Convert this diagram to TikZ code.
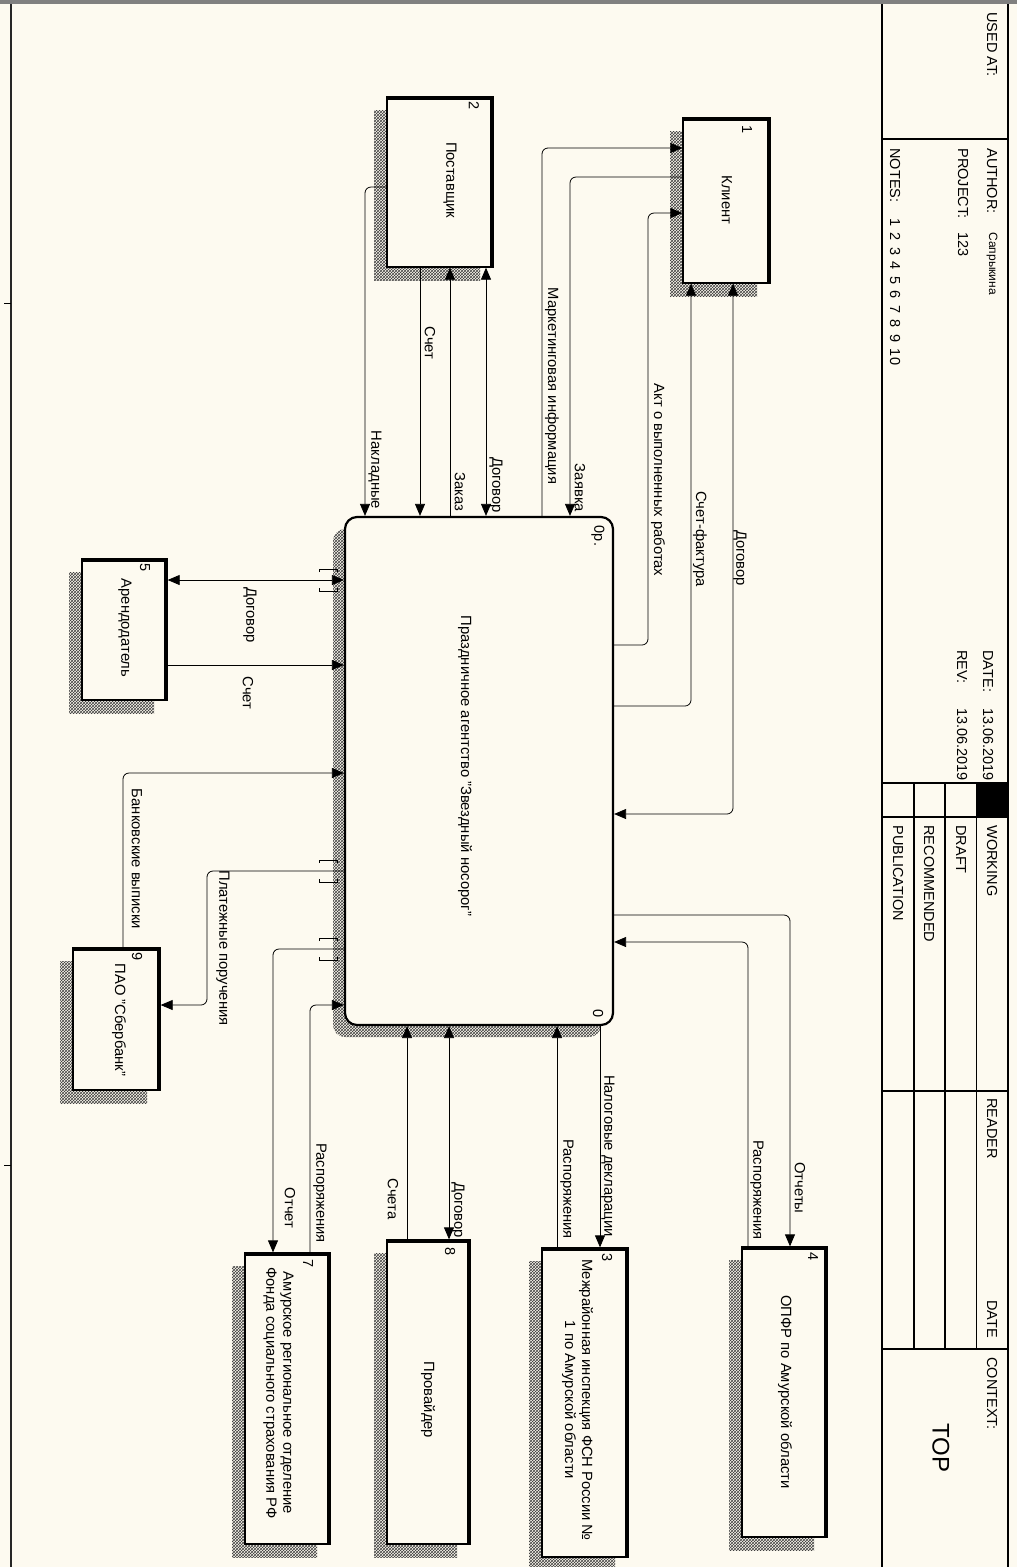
\documentclass[tikz,border=0pt]{standalone}
\usepackage{fontspec}
\setmainfont{Liberation Sans}
\usetikzlibrary{arrows.meta,shadows,patterns}
\definecolor{paper}{RGB}{253,250,240}
\tikzset{every path/.style={line width=0.8pt},
  vtxt/.style={rotate=-90,inner sep=1pt,align=center,font=\fontsize{14.8}{17}\selectfont},
  ttl/.style={rotate=-90,anchor=west,inner sep=0pt,font=\fontsize{14.5}{17}\selectfont},
  num/.style={rotate=-90,inner sep=0pt,font=\fontsize{14.5}{17}\selectfont},
  ext/.style={draw,line width=1.3pt,fill=paper,inner sep=0pt,
    general shadow={shadow xshift=-13pt,shadow yshift=-13pt,pattern=crosshatch,pattern color=black!75}},
  proc/.style={draw,line width=2.2pt,fill=paper,inner sep=0pt,rounded corners=12pt,
    general shadow={shadow xshift=-12pt,shadow yshift=-12pt,pattern=crosshatch,pattern color=black!75}},
  flow/.style={-{Triangle[length=12pt,width=10pt]},rounded corners=6pt},
  both/.style={{Triangle[length=12pt,width=10pt]}-{Triangle[length=12pt,width=10pt]},rounded corners=6pt}}

\begin{document}
\begin{tikzpicture}[x=1pt,y=-1pt]
  \useasboundingbox (0,0) rectangle (1017,1567);
  \fill[paper] (0,0) rectangle (1017,1567);

  \draw[black!50,line width=4pt] (0,2) -- (1017,2);
  \draw[black!85,line width=1.5pt] (11,4) -- (11,1567);
  \draw (4,303) -- (11,303) (4,1165) -- (11,1165);

  \draw[line width=1.2pt] (882,4) -- (882,1567) (1008,4) -- (1008,1567);
  \draw[line width=1.2pt] (882,139) -- (1008,139) (882,783) -- (1008,783) (882,817) -- (1008,817)
    (882,1091) -- (1008,1091) (882,1349) -- (1008,1349);
  \draw[line width=1.2pt] (914,783) -- (914,1349) (945,783) -- (945,1349) (976.5,783) -- (976.5,1349);
  \fill (976.5,783) rectangle (1008,817);

  \node[ttl] (usedat) at (992,12) {USED AT:};
  \node[ttl] (author) at (992,148) {AUTHOR:};
  \node[ttl,font=\fontsize{12}{14}\selectfont] (authorname) at (992,232) {Сапрыкина};
  \node[ttl] (project) at (963,148) {PROJECT:};
  \node[ttl] (projectno) at (963,232) {123};
  \node[ttl] (notes) at (895,148) {NOTES:};
  \node[ttl] (notesno) at (895,218) {1\, 2\, 3\, 4\, 5\, 6\, 7\, 8\, 9\, 10};
  \node[ttl] (date) at (988,650) {DATE:};
  \node[ttl] (dateval) at (988,708) {13.06.2019};
  \node[ttl] (rev) at (962,650) {REV:};
  \node[ttl] (revval) at (962,708) {13.06.2019};
  \node[ttl] (working) at (992,825) {WORKING};
  \node[ttl] (draft) at (961,825) {DRAFT};
  \node[ttl] (recommended) at (929,825) {RECOMMENDED};
  \node[ttl] (publication) at (898,825) {PUBLICATION};
  \node[ttl] (reader) at (992,1098) {READER};
  \node[ttl] (readerdate) at (992,1300) {DATE};
  \node[ttl] (context) at (992,1357) {CONTEXT:};
  \node[rotate=-90,font=\fontsize{24}{28}\selectfont] (top) at (941,1448) {TOP};

  \node[proc,minimum width=268pt,minimum height=508pt] (agency) at (479,771) {};
  \node[ext,minimum width=87pt,minimum height=165pt] (klient) at (726.5,200.5) {};
  \node[ext,minimum width=106pt,minimum height=170pt] (postav) at (440,182) {};
  \node[ext,minimum width=85pt,minimum height=141pt] (arend) at (124.5,629.5) {};
  \node[ext,minimum width=87pt,minimum height=142pt] (sber) at (116.5,1019) {};
  \node[ext,minimum width=85pt,minimum height=291pt] (fss) at (287.5,1398.5) {};
  \node[ext,minimum width=83pt,minimum height=304pt] (prov) at (428.5,1392) {};
  \node[ext,minimum width=86pt,minimum height=309pt] (fsn) at (585,1402.5) {};
  \node[ext,minimum width=85pt,minimum height=290pt] (opfr) at (784.5,1392) {};
  \foreach \b in {klient,postav,arend,sber,fss,prov,fsn,opfr}
    \draw[line width=4pt] ([yshift=-2pt]\b.north west) -- ([xshift=-2pt,yshift=-2pt]\b.north east)
      -- ([xshift=-2pt]\b.south east);

  \node[vtxt] (agency-t) at (465,766) {Праздничное агентство "Звездный носорог"};
  \node[num] (agency-n) at (598,536) {0р.};
  \node[num] (agency-m) at (598,1014) {0};
  \node[vtxt] (klient-t) at (727,200) {Клиент};
  \node[num] (klient-n) at (747,130) {1};
  \node[vtxt] (postav-t) at (450,180) {Поставщик};
  \node[num] (postav-n) at (474,106) {2};
  \node[vtxt] (fsn-t) at (577.5,1400) {Межрайонная инспекция ФСН России №\\1 по Амурской области};
  \node[num] (fsn-n) at (607,1258) {3};
  \node[vtxt] (opfr-t) at (785,1392) {ОПФР по Амурской области};
  \node[num] (opfr-n) at (813,1257) {4};
  \node[vtxt] (arend-t) at (125,628) {Арендодатель};
  \node[num] (arend-n) at (145,568) {5};
  \node[vtxt] (fss-t) at (278.5,1393) {Амурское региональное отделение\\Фонда социального страхования РФ};
  \node[num] (fss-n) at (308,1264) {7};
  \node[vtxt] (prov-t) at (428,1400) {Провайдер};
  \node[num] (prov-n) at (450,1252) {8};
  \node[vtxt] (sber-t) at (119,1020) {ПАО "Сбербанк"};
  \node[num] (sber-n) at (137,957) {9};

  \draw[flow] (postav.west |- 0,187) -| (365,0 |- agency.north);
  \draw[flow] (420,0 |- postav.south) -- (420,0 |- agency.north);
  \draw[flow] (450,0 |- agency.north) -- (450,0 |- postav.south);
  \draw[both] (486,0 |- postav.south) -- (486,0 |- agency.north);
  \draw[flow] (542,0 |- agency.north) |- (klient.west |- 0,148);
  \draw[flow] (klient.west |- 0,177) -| (570,0 |- agency.north);
  \draw[flow] (agency.east |- 0,645) -- (648,645) |- (klient.west |- 0,213);
  \draw[flow] (agency.east |- 0,706) -| (691,0 |- klient.south);
  \draw[both] (733,0 |- klient.south) |- (agency.east |- 0,814);
  \draw[flow] (agency.east |- 0,915) -| (790,0 |- opfr.north);
  \draw[flow] (748,0 |- opfr.north) |- (agency.east |- 0,942);
  \draw[flow] (600,0 |- agency.south) -- (600,0 |- fsn.north);
  \draw[flow] (557,0 |- fsn.north) -- (557,0 |- agency.south);
  \draw[both] (449,0 |- agency.south) -- (449,0 |- prov.north);
  \draw[flow] (407,0 |- prov.north) -- (407,0 |- agency.south);
  \draw[flow] (agency.west |- 0,949) -| (273,0 |- fss.north);
  \draw[flow] (310,0 |- fss.north) |- (agency.west |- 0,1005);
  \draw[both] (arend.east |- 0,580) -- (agency.west |- 0,580);
  \draw[flow] (arend.east |- 0,665) -- (agency.west |- 0,665);
  \draw[flow] (123,0 |- sber.north) |- (agency.west |- 0,773);
  \draw[flow] (agency.west |- 0,871) -- (207,871) |- (sber.east |- 0,1005);

  \foreach \ty in {580,871,949}
    \draw (319,\ty-8) -- (319,\ty-11) -- (337,\ty-11) -- (337,\ty-8)
      (319,\ty+8) -- (319,\ty+11) -- (337,\ty+11) -- (337,\ty+8);

  \node[vtxt] (l-nakl) at (375,470) {Накладные};
  \node[vtxt] (l-schet) at (430,343) {Счет};
  \node[vtxt] (l-zakaz) at (460,492) {Заказ};
  \node[vtxt] (l-dog2) at (496,485) {Договор};
  \node[vtxt] (l-mark) at (552,386) {Маркетинговая информация};
  \node[vtxt] (l-zayav) at (580,488) {Заявка};
  \node[vtxt] (l-akt) at (658,480) {Акт о выполненных работах};
  \node[vtxt] (l-sf) at (700,539) {Счет-фактура};
  \node[vtxt] (l-dog1) at (740,558) {Договор};
  \node[vtxt] (l-otchety) at (800,1188) {Отчеты};
  \node[vtxt] (l-rasp4) at (757,1190) {Распоряжения};
  \node[vtxt] (l-nalog) at (608,1156) {Налоговые декларации};
  \node[vtxt] (l-rasp3) at (567,1189) {Распоряжения};
  \node[vtxt] (l-dog8) at (458,1210) {Договор};
  \node[vtxt] (l-scheta) at (393,1199) {Счета};
  \node[vtxt] (l-otchet) at (290,1208) {Отчет};
  \node[vtxt] (l-rasp7) at (320,1193) {Распоряжения};
  \node[vtxt] (l-dog5) at (250,615) {Договор};
  \node[vtxt] (l-schet5) at (248,693) {Счет};
  \node[vtxt] (l-bank) at (137,859) {Банковские выписки};
  \node[vtxt] (l-plat) at (223,948) {Платежные поручения};
\end{tikzpicture}
\end{document}
